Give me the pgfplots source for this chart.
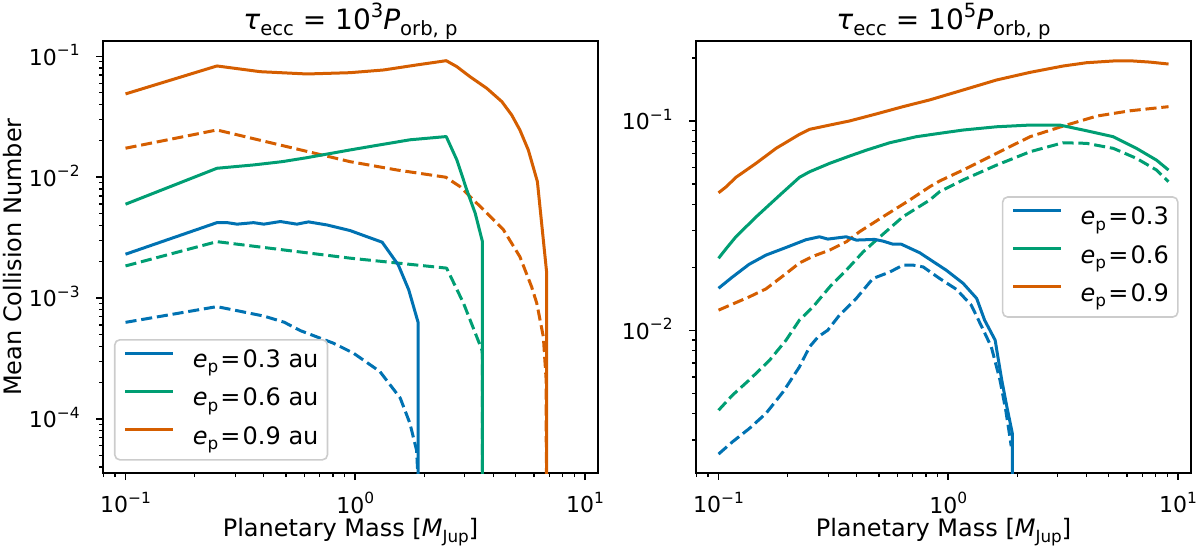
\documentclass[border=0pt]{standalone}
\usepackage{fontspec}
\setmainfont{DejaVu Sans}
\usepackage{pgfplots}
\pgfplotsset{compat=1.18}
\definecolor{cb}{RGB}{0,114,178}
\definecolor{cg}{RGB}{0,158,115}
\definecolor{co}{RGB}{213,94,0}
\newcommand{\eq}{\hspace{1.1pt}=\hspace{1.1pt}}
\newcommand{\sbs}[2]{\raisebox{-0.22em}{\fontsize{#1}{#1}\selectfont #2}}
\newcommand{\sps}[2]{\raisebox{0.43em}{\fontsize{#1}{#1}\selectfont #2}}
\newcommand{\ep}{\textit{e}\sbs{8.4}{p}}
\pgfplotsset{
 every axis/.append style={
  scale only axis, width=247.5pt, height=216pt,
  xmin=0.0798, xmax=11.4,
  tick align=outside, tick pos=left,
  major tick length=3.5pt, minor tick length=2pt,
  every major tick/.append style={line width=0.8pt, black},
  every minor tick/.append style={line width=0.6pt, black},
  axis line style={line width=0.8pt},
  xtick={0.1,1,10},
  xticklabels={10\sps{7.7}{−1},10\sps{7.7}{0},10\sps{7.7}{1}},
  minor xtick={0.08,0.09,0.2,0.3,0.4,0.5,0.6,0.7,0.8,0.9,2,3,4,5,6,7,8,9},
  tick label style={font=\fontsize{11}{13}\selectfont},
  xticklabel style={inner sep=0pt, anchor=north, yshift=-5.9pt},
  yticklabel style={inner sep=0pt, anchor=base east, xshift=-8pt, yshift=-4.4pt},
  label style={font=\fontsize{12}{14}\selectfont},
  xlabel={Planetary Mass [\textit{M}\sbs{8.4}{Jup}]},
  xlabel style={at={(axis description cs:0.5,-0.1475)}, anchor=base},
  title style={font=\fontsize{14}{16}\selectfont, at={(axis description cs:0.5,1)}, anchor=base, yshift=-0.3pt},
  legend style={font=\fontsize{12}{14}\selectfont, draw=black!20, line width=0.8pt, rounded corners=2.5pt,
    fill=white, fill opacity=0.8, text opacity=1, inner xsep=4.5pt, inner ysep=4.9pt,
    nodes={inner sep=0pt, text height=9pt, text depth=3pt},
    row sep=7.1pt, column sep=9pt},
  legend cell align=left,
 },
 every axis plot/.append style={line width=1.5pt, line join=round},
 legend image code/.code={\draw[#1, line cap=butt] (0pt,4.3pt) -- (24pt,4.3pt);},
}
\begin{document}
\begin{tikzpicture}[x=1pt,y=1pt]
\useasboundingbox (0,0) rectangle (600,274);
\begin{loglogaxis}[at={(51.5pt,37.5pt)}, anchor=south west,
  ymin=3.57e-5, ymax=0.134,
  ytick={1e-4,1e-3,1e-2,1e-1},
  yticklabels={10\sps{7.7}{−4},10\sps{7.7}{−3},10\sps{7.7}{−2},10\sps{7.7}{−1}},
  minor ytick={4e-5,5e-5,6e-5,7e-5,8e-5,9e-5,2e-4,3e-4,4e-4,5e-4,6e-4,7e-4,8e-4,9e-4,2e-3,3e-3,4e-3,5e-3,6e-3,7e-3,8e-3,9e-3,2e-2,3e-2,4e-2,5e-2,6e-2,7e-2,8e-2,9e-2},
  ylabel={Mean Collision Number},
  ylabel style={at={(axis description cs:-0.182,0.5)}, anchor=center},
  title={\textit{τ}\sbs{9.8}{ecc} = 10\sps{9.8}{3}\textit{P}\sbs{9.8}{orb, p}},
  legend style={at={(axis description cs:0,0)}, anchor=south west, xshift=5.5pt, yshift=6.2pt},
]
\addplot[cb, dash pattern=on 5.55pt off 2.4pt, forget plot] coordinates {(0.1,0.00063) (0.25,0.00085) (0.40,0.00071) (0.49,0.000632) (0.577,0.000538) (0.805,0.000423) (0.983,0.00035) (1.28,0.000247) (1.57,0.000149) (1.73,9.2e-5) (1.85,5.5e-5) (1.88,3e-5)};
\addplot[cg, dash pattern=on 5.55pt off 2.4pt, forget plot] coordinates {(0.1,0.001845) (0.25,0.00293) (0.95,0.00214) (2.5,0.00177) (2.96,0.000908) (3.56,0.000373) (3.58,0.00034) (3.58,1e-7)};
\addplot[co, dash pattern=on 5.55pt off 2.4pt, forget plot] coordinates {(0.1,0.01738) (0.25,0.0246) (0.95,0.01345) (1.52,0.01148) (2.48,0.0100) (2.86,0.00836) (3.62,0.00537) (4.42,0.00367) (5.21,0.0022) (5.86,0.00124) (6.17,0.000908) (6.59,0.00048) (6.78,0.00021) (6.82,1e-7)};
\addplot[cb] coordinates {(0.1,0.002306) (0.25,0.00421) (0.277,0.00421) (0.306,0.00409) (0.361,0.00421) (0.40,0.00409) (0.472,0.0043) (0.557,0.00409) (0.626,0.00427) (0.753,0.00403) (0.95,0.00362) (1.12,0.00323) (1.31,0.0029) (1.54,0.00188) (1.71,0.00117) (1.88,0.000626) (1.88,1e-7)};
\addlegendentry{\ep\eq 0.3 au}
\addplot[cg] coordinates {(0.1,0.00598) (0.25,0.01186) (0.361,0.01264) (0.48,0.01345) (0.617,0.01452) (0.95,0.01682) (1.2,0.01815) (1.73,0.0204) (2.49,0.0217) (2.77,0.0139) (3.06,0.00785) (3.33,0.00503) (3.58,0.00293) (3.58,1e-7)};
\addlegendentry{\ep\eq 0.6 au}
\addplot[co] coordinates {(0.1,0.0489) (0.25,0.0833) (0.386,0.0747) (0.617,0.0715) (0.95,0.0733) (1.33,0.0772) (1.85,0.0849) (2.49,0.0921) (2.77,0.0822) (3.16,0.0679) (3.74,0.0544) (4.35,0.0422) (4.8,0.0327) (5.21,0.0246) (5.67,0.0168) (6.21,0.0092) (6.82,0.0016) (6.82,1e-7)};
\addlegendentry{\ep\eq 0.9 au}
\end{loglogaxis}
\begin{loglogaxis}[at={(348pt,37.5pt)}, anchor=south west,
  ymin=0.002087, ymax=0.2408,
  ytick={1e-2,1e-1},
  yticklabels={10\sps{7.7}{−2},10\sps{7.7}{−1}},
  minor ytick={3e-3,4e-3,5e-3,6e-3,7e-3,8e-3,9e-3,2e-2,3e-2,4e-2,5e-2,6e-2,7e-2,8e-2,9e-2,2e-1},
  title={\textit{τ}\sbs{9.8}{ecc} = 10\sps{9.8}{5}\textit{P}\sbs{9.8}{orb, p}},
  legend style={at={(axis description cs:1,0.5)}, anchor=east, xshift=-6.2pt},
]
\addplot[cb, dash pattern=on 5.55pt off 2.4pt, forget plot] coordinates {(0.1,0.00257) (0.115,0.00294) (0.136,0.0034) (0.161,0.00402) (0.191,0.00509) (0.225,0.0067) (0.249,0.00835) (0.271,0.00931) (0.299,0.01003) (0.336,0.01183) (0.398,0.01422) (0.47,0.0177) (0.556,0.019) (0.635,0.0205) (0.703,0.0205) (0.778,0.0201) (0.918,0.0177) (1.087,0.0157) (1.26,0.0132) (1.40,0.0104) (1.54,0.00835) (1.68,0.0058) (1.78,0.00416) (1.86,0.00305) (1.88,0.0028)};
\addplot[cg, dash pattern=on 5.55pt off 2.4pt, forget plot] coordinates {(0.1,0.00416) (0.115,0.00491) (0.136,0.0058) (0.167,0.00722) (0.197,0.009) (0.225,0.0112) (0.258,0.01297) (0.305,0.01615) (0.36,0.0194) (0.426,0.0237) (0.486,0.027) (0.635,0.0349) (0.83,0.0419) (0.918,0.046) (1.16,0.0523) (1.62,0.0615) (2.27,0.0713) (3.16,0.0787) (4.0,0.0782) (5.23,0.074) (6.6,0.0663) (8.07,0.0583) (9.1,0.0513)};
\addplot[co, dash pattern=on 5.55pt off 2.4pt, forget plot] coordinates {(0.1,0.0125) (0.115,0.01336) (0.136,0.01446) (0.161,0.0158) (0.197,0.0187) (0.225,0.021) (0.258,0.0226) (0.305,0.0242) (0.36,0.0265) (0.411,0.0296) (0.52,0.0349) (0.679,0.0419) (0.83,0.0485) (0.918,0.0517) (1.16,0.0583) (1.62,0.07) (2.27,0.0841) (3.16,0.0945) (4.43,0.1055) (6.18,0.1118) (9.1,0.117)};
\addplot[cb] coordinates {(0.1,0.0159) (0.115,0.018) (0.136,0.0207) (0.161,0.0229) (0.197,0.0249) (0.24,0.0271) (0.275,0.028) (0.299,0.0273) (0.36,0.028) (0.398,0.027) (0.478,0.0272) (0.52,0.0267) (0.575,0.0258) (0.625,0.0258) (0.751,0.0235) (0.98,0.0194) (1.16,0.0168) (1.33,0.01422) (1.44,0.0112) (1.6,0.009) (1.71,0.0058) (1.80,0.00432) (1.9,0.00324) (1.9,1e-7)};
\addlegendentry{\ep\eq 0.3}
\addplot[cg] coordinates {(0.1,0.0221) (0.108,0.0246) (0.119,0.028) (0.146,0.0349) (0.185,0.0443) (0.225,0.0538) (0.249,0.0572) (0.305,0.0628) (0.372,0.068) (0.441,0.0726) (0.556,0.0787) (0.726,0.0841) (0.918,0.0873) (1.16,0.0905) (1.62,0.0938) (2.27,0.0956) (3.06,0.0956) (4.0,0.0898) (5.23,0.0841) (6.6,0.074) (8.07,0.065) (9.1,0.0583)};
\addlegendentry{\ep\eq 0.6}
\addplot[co] coordinates {(0.1,0.0454) (0.108,0.0485) (0.119,0.0538) (0.146,0.0629) (0.178,0.074) (0.225,0.0863) (0.249,0.0912) (0.305,0.0956) (0.372,0.1) (0.486,0.108) (0.635,0.117) (0.83,0.126) (1.16,0.1405) (1.62,0.1568) (2.27,0.1706) (3.16,0.1829) (4.0,0.1897) (5.4,0.1938) (6.18,0.1938) (7.55,0.191) (9.1,0.187)};
\addlegendentry{\ep\eq 0.9}
\end{loglogaxis}
\end{tikzpicture}
\end{document}
